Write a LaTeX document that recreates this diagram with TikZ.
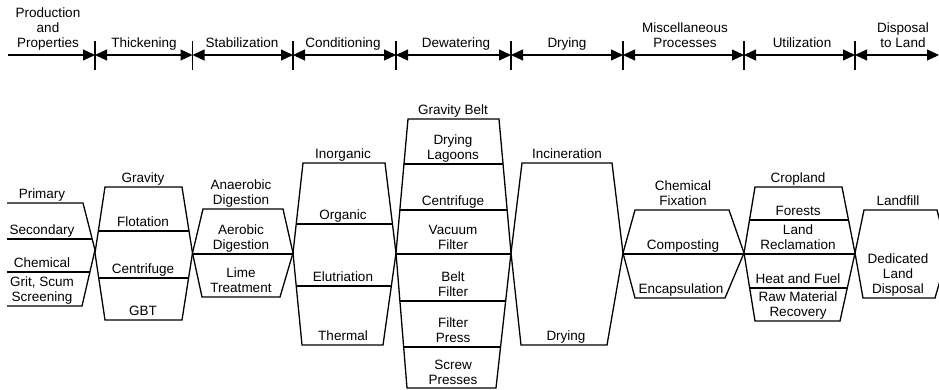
\documentclass[tikz,border=0pt]{standalone}
\usepackage{fontspec}
\setmainfont{Liberation Sans}
\usetikzlibrary{arrows.meta}
\tikzset{
  lab/.style={align=center, inner sep=0pt, anchor=south, text depth=0pt,
    font=\fontsize{13.5}{15}\selectfont},
  edgeline/.style={line width=1.3pt, line join=miter},
  divline/.style={line width=1.1pt},
  tip/.tip={Triangle[length=12pt,width=11pt]},
  spanarrow/.style={line width=1.1pt, tip-tip},
  endarrow/.style={line width=1.1pt, -tip},
  tickline/.style={line width=1.1pt}
}
% lt rt ty lb rb by wl wr dividers
\newcommand\stagecol[9]{%
  \begin{scope}
    \clip (#1,#3) -- (#2,#3) -- (#8,253) -- (#5,#6) -- (#4,#6) -- (#7,253) -- cycle;
    \foreach \d in {#9} { \draw[divline] (#7-20,\d) -- (#8+20,\d); }
  \end{scope}
  \draw[edgeline] (#1,#3) -- (#2,#3) -- (#8,253) -- (#5,#6) -- (#4,#6) -- (#7,253) -- cycle;
}
\begin{document}
\begin{tikzpicture}[x=1pt,y=-1pt]
\useasboundingbox (0,0) rectangle (939,390);
\begin{scope}
\clip (0,0) rectangle (939,390);
% ---------- timeline ----------
\coordinate (t0) at (8,55);
\coordinate (k1) at (95,55);
\coordinate (k2) at (192.5,55);
\coordinate (k3) at (293,55);
\coordinate (k4) at (396,55);
\coordinate (k5) at (511,55);
\coordinate (k6) at (623,55);
\coordinate (k7) at (744,55);
\coordinate (k8) at (855,55);
\coordinate (tend) at (939,55);
\foreach \k in {k1,k2,k3,k4,k5,k6,k7,k8} {
  \draw[tickline] (\k) ++(0,-14) -- ++(0,29);
}
\draw[endarrow] (t0) -- (k1);
\draw[spanarrow] (k1) -- (k2);
\draw[spanarrow] (k2) -- (k3);
\draw[spanarrow] (k3) -- (k4);
\draw[spanarrow] (k4) -- (k5);
\draw[spanarrow] (k5) -- (k6);
\draw[spanarrow] (k6) -- (k7);
\draw[spanarrow] (k7) -- (k8);
\draw[spanarrow] (k8) -- (tend);

\node[lab] (h0) at (48,48) {Production\\and\\Properties};
\node[lab] (h1) at (144,48) {Thickening};
\node[lab] (h2) at (242,48) {Stabilization};
\node[lab] (h3) at (343,48) {Conditioning};
\node[lab] (h4) at (456,48) {Dewatering};
\node[lab] (h5) at (567,48) {Drying};
\node[lab] (h6) at (685,48) {Miscellaneous\\Processes};
\node[lab] (h7) at (802,48) {Utilization};
\node[lab] (h8) at (903,48) {Disposal\\to Land};

% ---------- column 0 : production ----------
\begin{scope}
  \clip (7,203) -- (83,203) -- (95,250) -- (82,306) -- (7,306) -- cycle;
  \draw[divline] (0,239) -- (100,239);
  \draw[divline] (0,272) -- (100,272);
\end{scope}
\draw[edgeline] (7,203) -- (83,203) -- (95,250) -- (82,306) -- (7,306);
\node[lab] (p1) at (42,199) {Primary};
\node[lab] (p2) at (42,235) {Secondary};
\node[lab] (p3) at (42,268) {Chemical};
\node[lab] (p4) at (42,302) {Grit, Scum\\Screening};

% ---------- column 1 : thickening ----------
\stagecol{105}{182}{187}{105}{182}{320}{95}{192.5}{231,278}
\node[lab] (a1) at (143,183) {Gravity};
\node[lab] (a2) at (143,227) {Flotation};
\node[lab] (a3) at (143,274) {Centrifuge};
\node[lab] (a4) at (143,316) {GBT};

% ---------- column 2 : stabilization ----------
\stagecol{203}{283}{209}{202}{280}{297}{192.5}{293}{254}
\node[lab] (b1) at (241,205) {Anaerobic\\Digestion};
\node[lab] (b2) at (241,250) {Aerobic\\Digestion};
\node[lab] (b3) at (241,293) {Lime\\Treatment};

% ---------- column 3 : conditioning ----------
\stagecol{303}{385}{163}{302}{383}{345}{293}{396}{224,286}
\node[lab] (c1) at (343,159) {Inorganic};
\node[lab] (c2) at (343,220) {Organic};
\node[lab] (c3) at (343,282) {Elutriation};
\node[lab] (c4) at (343,341) {Thermal};

% ---------- column 4 : dewatering ----------
\stagecol{408}{499}{119}{407}{496}{388}{396}{511}{164,210,254,301,347}
\node[lab] (d1) at (453,115) {Gravity Belt};
\node[lab] (d2) at (453,160) {Drying\\Lagoons};
\node[lab] (d3) at (453,206) {Centrifuge};
\node[lab] (d4) at (453,250) {Vacuum\\Filter};
\node[lab] (d5) at (453,297) {Belt\\Filter};
\node[lab] (d6) at (453,343) {Filter\\Press};
\node[lab] (d7) at (453,385) {Screw\\Presses};

% ---------- column 5 : drying ----------
\stagecol{522}{612}{163}{521}{607}{345}{511}{623}{-50}
\node[lab] (e1) at (567,159) {Incineration};
\node[lab] (e2) at (566,341) {Drying};

% ---------- column 6 : miscellaneous ----------
\stagecol{635}{729}{210}{635}{725}{298}{623}{744}{254}
\node[lab] (f1) at (683,206) {Chemical\\Fixation};
\node[lab] (f2) at (683,250) {Composting};
\node[lab] (f3) at (681,294) {Encapsulation};

% ---------- column 7 : utilization ----------
\stagecol{755}{842}{187}{755}{840}{321}{744}{855}{220,254,288}
\node[lab] (g1) at (798,183) {Cropland};
\node[lab] (g2) at (798,216) {Forests};
\node[lab] (g3) at (798,250) {Land\\Reclamation};
\node[lab] (g4) at (798,284) {Heat and Fuel};
\node[lab] (g5) at (798,317) {Raw Material\\Recovery};

% ---------- column 8 : disposal ----------
\stagecol{864}{937}{210}{863}{935}{298}{855}{948}{-50}
\node[lab] (h9) at (898,206) {Landfill};
\node[lab] (h10) at (898,294) {Dedicated\\Land\\Disposal};
\end{scope}
\end{tikzpicture}
\end{document}
